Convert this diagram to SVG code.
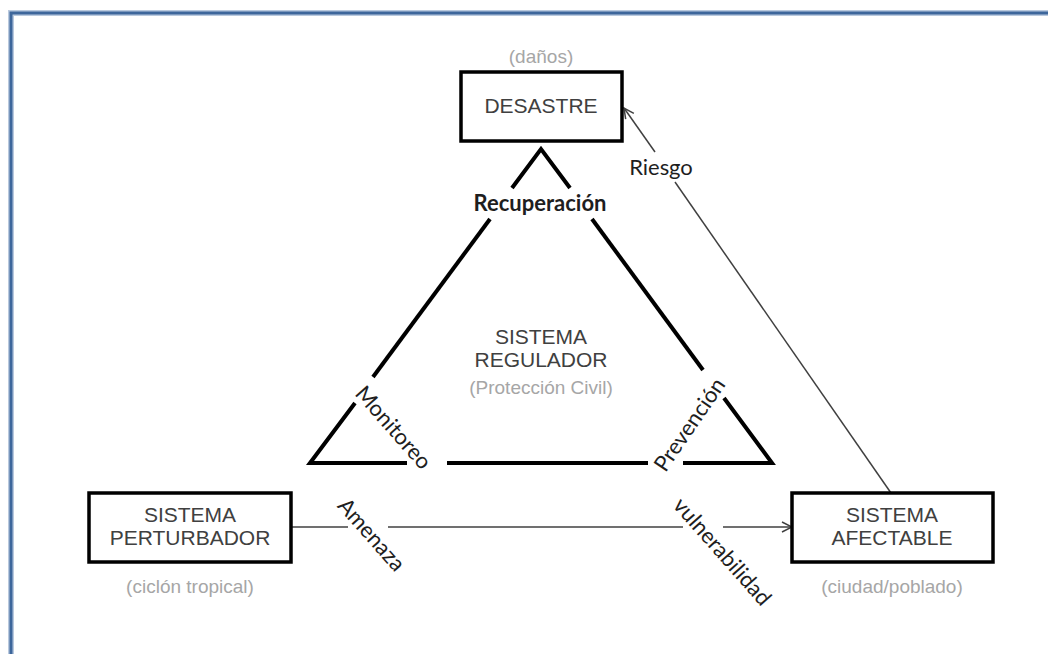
<svg xmlns="http://www.w3.org/2000/svg" width="1048" height="654" viewBox="0 0 1048 654">
  <style>
    .frame { fill: none; stroke: #3d669b; stroke-width: 3; }
    .frame-halo { fill: none; stroke: #b9c9de; stroke-width: 6; }
    .box { fill: #ffffff; stroke: #000000; stroke-width: 3.5; }
    .boxtxt { font-family: "Liberation Sans", Arial, sans-serif; font-size: 21px; fill: #404040; text-anchor: middle; }
    .sub { font-family: "Liberation Sans", Arial, sans-serif; font-size: 19px; fill: #a6a6a6; text-anchor: middle; }
    .tri { fill: none; stroke: #000000; stroke-width: 4; stroke-linejoin: miter; stroke-linecap: butt; }
    .link { fill: none; stroke: #404040; stroke-width: 1.5; }
    .lbl { font-family: Lato, "Open Sans", sans-serif; font-size: 22px; fill: #1e1e1e; text-anchor: middle; }
    .lbl-b { font-family: Lato, "Open Sans", sans-serif; font-size: 22px; font-weight: bold; fill: #1e1e1e; text-anchor: middle; }
  </style>
  <defs>
    <marker id="chev" viewBox="0 0 12 12" refX="11" refY="6" markerWidth="12" markerHeight="12" markerUnits="userSpaceOnUse" orient="auto">
      <path d="M1,1 L11,6 L1,11" fill="none" stroke="#404040" stroke-width="1.5"/>
    </marker>
  </defs>

  <rect width="1048" height="654" fill="#ffffff"/>

  <!-- page frame (top and left edges) -->
  <g id="frame">
    <path class="frame-halo" d="M11,654 V13 H1048"/>
    <path class="frame" d="M11,654 V13 H1048"/>
  </g>

  <!-- regulating system: broken triangle -->
  <g id="regulador">
    <polyline class="tri" points="512,188 541,149 570,188"/>
    <line class="tri" x1="490" y1="219" x2="373" y2="377"/>
    <polyline class="tri" points="355,403 310,463 407,463"/>
    <line class="tri" x1="447" y1="463" x2="648" y2="463"/>
    <polyline class="tri" points="683,463 772,463 724,398"/>
    <line class="tri" x1="703" y1="370" x2="592" y2="219"/>
    <text class="boxtxt" x="541" y="344">SISTEMA</text>
    <text class="boxtxt" x="541" y="367">REGULADOR</text>
    <text class="sub" x="541" y="394">(Protección Civil)</text>
    <text class="lbl-b" x="540" y="211">Recuperación</text>
    <text class="lbl" transform="translate(393,428) rotate(48.7)" y="7">Monitoreo</text>
    <text class="lbl" transform="translate(690,425) rotate(-55.6)" y="7">Prevención</text>
  </g>

  <!-- connectors -->
  <g id="connectors">
    <line class="link" x1="291" y1="527" x2="348" y2="527"/>
    <line class="link" x1="388" y1="527" x2="683" y2="527"/>
    <line class="link" x1="723" y1="527" x2="792" y2="527" marker-end="url(#chev)"/>
    <line class="link" x1="891" y1="493" x2="675" y2="182"/>
    <line class="link" x1="655" y1="152" x2="624" y2="108" marker-end="url(#chev)"/>
    <text class="lbl" transform="translate(371,535) rotate(48.5)" y="7">Amenaza</text>
    <text class="lbl" transform="translate(722,552) rotate(48.6)" y="7">vulnerabilidad</text>
    <text class="lbl" x="661" y="175">Riesgo</text>
  </g>

  <g id="desastre">
    <text class="sub" x="541" y="63">(daños)</text>
    <rect class="box" x="461" y="72" width="161" height="69"/>
    <text class="boxtxt" x="541" y="113">DESASTRE</text>
  </g>

  <g id="perturbador">
    <rect class="box" x="89" y="493" width="202" height="69"/>
    <text class="boxtxt" x="190" y="522">SISTEMA</text>
    <text class="boxtxt" x="190" y="545">PERTURBADOR</text>
    <text class="sub" x="190" y="593">(ciclón tropical)</text>
  </g>

  <g id="afectable">
    <rect class="box" x="792" y="493" width="201" height="69"/>
    <text class="boxtxt" x="892" y="522">SISTEMA</text>
    <text class="boxtxt" x="892" y="545">AFECTABLE</text>
    <text class="sub" x="892" y="593">(ciudad/poblado)</text>
  </g>
</svg>
